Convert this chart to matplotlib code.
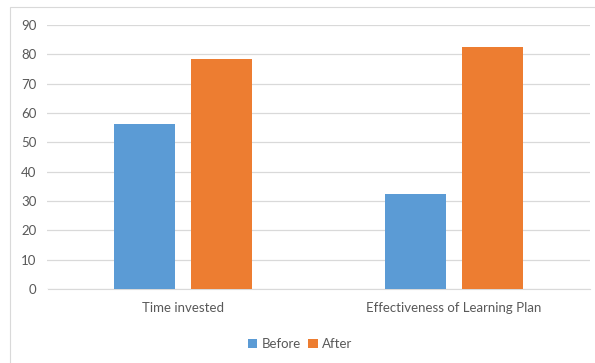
import matplotlib
matplotlib.use("Agg")
from matplotlib import pyplot as plt
from matplotlib.patches import Rectangle
import numpy as np

categories = ["Time invested", "Effectiveness of Learning Plan"]
before = [56.3, 32.4]
after = [78.4, 82.5]
series_names = ["Before", "After"]
colors = ["#5B9BD5", "#ED7D31"]

plt.rcParams['font.family'] = ['Lato', 'DejaVu Sans']
txt = "#595959"

fig = plt.figure(figsize=(5.95, 3.63), dpi=100)
# outer chart border (right side runs off the picture)
fig.patches.append(Rectangle((10/595, -0.01), 1, 1.01 - 7/363, transform=fig.transFigure,
                             fill=False, edgecolor="#D9D9D9", linewidth=0.8))
ax = fig.add_axes([47.5/595, 1 - 289/363, 542/595, 264/363])

x = np.arange(len(categories))
w = 0.225
ax.bar(x - 0.142, before, w, color=colors[0], label=series_names[0], zorder=3)
ax.bar(x + 0.142, after, w, color=colors[1], label=series_names[1], zorder=3)

ax.set_xlim(-0.5, 1.5)
ax.set_ylim(0, 90)
ax.set_yticks(range(0, 91, 10))
ax.set_xticks(x)
ax.set_xticklabels(categories)
ax.yaxis.grid(True, color="#D9D9D9", linewidth=0.9, zorder=0)
ax.tick_params(axis="both", length=0, labelsize=9.5, colors=txt)
ax.tick_params(axis="x", pad=9)
ax.tick_params(axis="y", pad=8)
for s in ["top", "right", "left"]:
    ax.spines[s].set_visible(False)
ax.spines["bottom"].set_color("#D9D9D9")

fig.legend(loc="center", bbox_to_anchor=(300/595, 1 - 344/363), ncol=2, frameon=False,
           fontsize=9.5, labelcolor=txt, handlelength=0.7, handleheight=0.7,
           handletextpad=0.3, columnspacing=0.6)

plt.savefig("out.png", dpi=100)
